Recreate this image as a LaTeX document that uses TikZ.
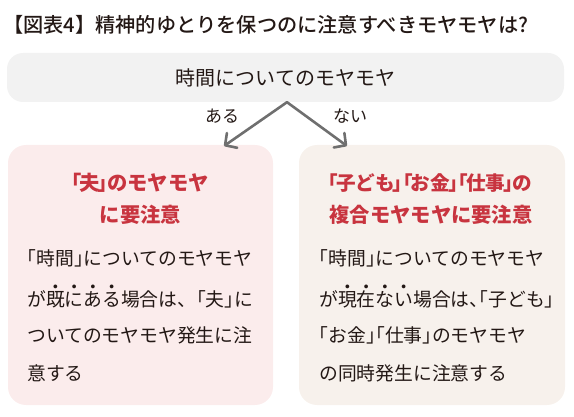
\documentclass[tikz,border=0pt]{standalone}
\usepackage{fontspec}
\setmainfont{Noto Sans CJK JP}
\newfontfamily\titlefont{Noto Sans CJK JP Medium}
\usetikzlibrary{arrows.meta}
\definecolor{grayfill}{HTML}{F2F2F2}
\definecolor{pinkfill}{HTML}{FBECEC}
\definecolor{beigefill}{HTML}{F7F1EC}
\definecolor{redtxt}{HTML}{C8343F}
\definecolor{arrowgray}{HTML}{6F6F6F}
\definecolor{txt}{HTML}{231815}
\XeTeXlinebreaklocale "ja"
\XeTeXlinebreakskip=0pt plus 4pt minus 1.5pt
% half-width brackets for body text
\newcommand\lb{\makebox[0.5em][r]{「}}
\newcommand\rb{\makebox[0.5em][l]{」}}
\newcommand\rbq{\makebox[0.25em][l]{」}}
\newcommand\tc{\makebox[0.5em][l]{、}}
% narrow brackets for red headings
\newcommand\lbr{\makebox[0.36em][r]{「\kern-0.1em}}
\newcommand\rbr{\makebox[0.36em][l]{\kern-0.1em」}}
\newcommand\brgap{\kern0.1em}
% emphasis dot (boten)
\newcommand\bt[1]{\leavevmode\rlap{\makebox[1em]{\raisebox{1.0em}{\fontsize{4.2}{4.2}\selectfont ●}}}#1}
\newcommand\jl[1]{\hbox to 226pt{#1}}
\tikzset{
  panel/.style={rounded corners=18pt, inner sep=0pt},
  arr/.style={draw=arrowgray, line width=2.6pt, line cap=round, line join=round,
    -{Straight Barb[length=8.5pt,width=18pt,round]}},
  lbl/.style={inner sep=0pt, text=txt, font=\fontsize{17}{17}\selectfont},
  redt/.style={inner sep=0pt, text=redtxt, font=\bfseries\fontsize{20.3}{20.3}\selectfont},
  body/.style={inner sep=0pt, anchor=west, text=txt, font=\fontsize{18.8}{18.8}\selectfont},
}
\begin{document}
\begin{tikzpicture}[x=1pt,y=-1pt]
\useasboundingbox (0,0) rectangle (574,417);
\node[anchor=west, inner sep=0pt, text=txt, font=\titlefont\fontsize{20.2}{20.2}\selectfont] (title) at (3,25) {【図表4】精神的ゆとりを保つのに注意すべきモヤモヤは?};
\node[panel, rounded corners=16pt, fill=grayfill, minimum width=557pt, minimum height=49pt, text=txt, font=\fontsize{20}{20}\selectfont] (top) at (285.5,77.5) {時間についてのモヤモヤ};
\node[panel, fill=pinkfill, minimum width=265pt, minimum height=260pt] (lbox) at (140.5,275) {};
\node[panel, fill=beigefill, minimum width=266pt, minimum height=260pt] (rbox) at (432,275) {};
\coordinate (ltip) at (224,146);
\coordinate (rtip) at (347,146);
\draw[arr] ([xshift=1.5pt]top.south) -- (ltip);
\draw[arr] ([xshift=1.5pt]top.south) -- (rtip);
\node[lbl] (aru) at (222,116) {ある};
\node[lbl] (nai) at (350,116) {ない};
% left panel
\node[redt] (lt1) at (140.5,183) {\lbr 夫\rbr のモヤモヤ};
\node[redt] (lt2) at (140.5,215) {に要注意};
\node[body] (l1) at (27,258) {\jl{\lb 時間\rb についてのモヤモヤ}};
\node[body] (l2) at (27,296.5) {\jl{が\bt{既}\bt{に}\bt{あ}\bt{る}場合は、\lb 夫\rb に}};
\node[body] (l3) at (27,335) {\jl{ついてのモヤモヤ発生に注}};
\node[body] (l4) at (27,373.5) {意する};
% right panel
\node[redt, font=\bfseries\fontsize{19.6}{19.6}\selectfont] (rt1) at (430.5,183) {\lbr 子ども\rbr\brgap\lbr お金\rbr\brgap\lbr 仕事\rbr の};
\node[redt] (rt2) at (431,215) {複合モヤモヤに要注意};
\node[body] (r1) at (319,258) {\jl{\lb 時間\rb についてのモヤモヤ}};
\node[body] (r2) at (319,296.5) {\jl{が\bt{現}\bt{在}\bt{な}\bt{い}場合は\tc\lb 子ども\rbq}};
\node[body] (r3) at (319,335) {\jl{\lb お金\rb\lb 仕事\rb のモヤモヤ}};
\node[body] (r4) at (319,373.5) {の同時発生に注意する};
\end{tikzpicture}
\end{document}
